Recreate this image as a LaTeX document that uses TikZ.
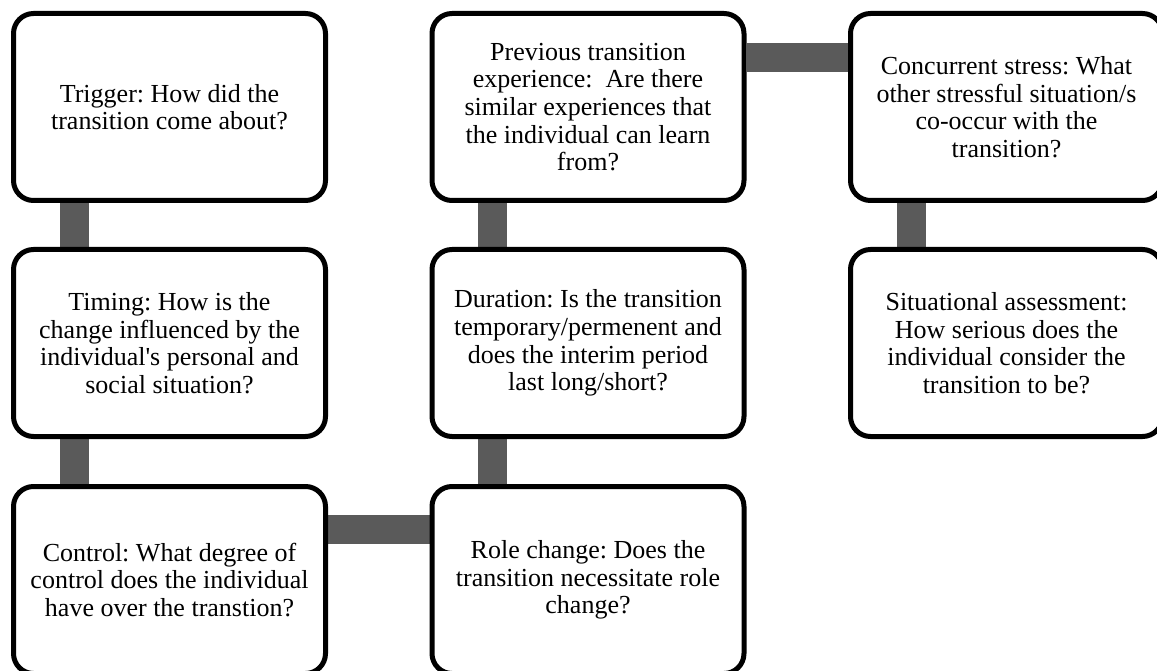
\documentclass[tikz,border=0pt]{standalone}
\usepackage{fontspec}
\setmainfont{Liberation Serif}
\usetikzlibrary{backgrounds}
\definecolor{linkgray}{HTML}{5A5A5A}
\tikzset{
  stage/.style={draw=black, line width=5pt, rounded corners=20pt, fill=white,
    minimum width=312pt, minimum height=187pt, align=center,
    font=\fontsize{26}{27.6}\selectfont\frenchspacing},
  link/.style={draw=linkgray, line width=29pt}
}
\begin{document}
\begin{tikzpicture}[x=1pt, y=-1pt]

  % --- 1. 画面の大きさ ---
  \useasboundingbox (0,0) rectangle (1157,671);

  % --- 2. 各ボックス ---
  \node[stage] (trigger) at (169.5,107) {Trigger: How did the\\transition come about?};
  \node[stage] (timing) at (169.5,343) {Timing: How is the\\change influenced by the\\individual\textquotesingle s personal and\\social situation?};
  \node[stage] (control) at (169.5,580) {Control: What degree of\\control does the individual\\have over the transtion?};

  \node[stage] (previous) at (588,107) {Previous transition\\experience:\ \ Are there\\similar experiences that\\the individual can learn\\from?};
  \node[stage] (duration) at (588,343) {Duration: Is the transition\\temporary/permenent and\\does the interim period\\last long/short?};
  \node[stage] (role) at (588,580) {Role change: Does the\\transition necessitate role\\change?};

  \node[stage] (concurrent) at (1006.5,107) {Concurrent stress: What\\other stressful situation/s\\co-occur with the\\transition?};
  \node[stage] (assessment) at (1006.5,343) {Situational assessment:\\How serious does the\\individual consider the\\transition to be?};

  % --- 3. 連結線 (ボックスの背後) ---
  \begin{scope}[on background layer]
    \path[link] ([xshift=63pt]trigger.south west) -- ([xshift=63pt]timing.north west);
    \path[link] ([xshift=63pt]timing.south west) -- ([xshift=63pt]control.north west);
    \path[link] ([yshift=-45pt]control.north east) -- ([yshift=-45pt]role.north west);
    \path[link] ([xshift=63pt]role.north west) -- ([xshift=63pt]duration.south west);
    \path[link] ([xshift=63pt]duration.north west) -- ([xshift=63pt]previous.south west);
    \path[link] ([yshift=-47pt]previous.north east) -- ([yshift=-47pt]concurrent.north west);
    \path[link] ([xshift=63pt]concurrent.south west) -- ([xshift=63pt]assessment.north west);
  \end{scope}

\end{tikzpicture}
\end{document}
